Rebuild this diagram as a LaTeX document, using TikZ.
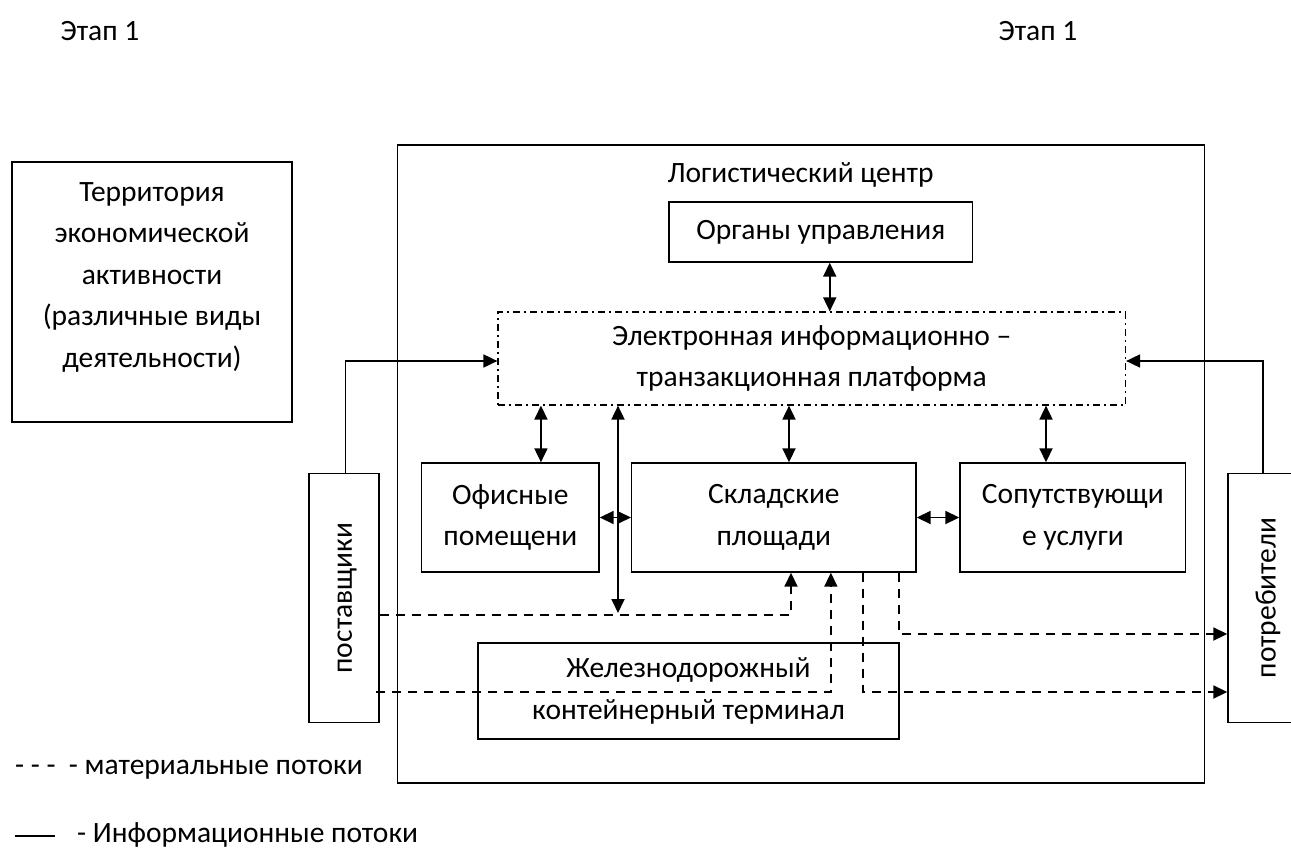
\documentclass[tikz,border=0pt]{standalone}
\usepackage{fontspec}
\setmainfont{Carlito}
\usetikzlibrary{arrows.meta,calc}
\tikzset{
  box/.style={draw, line width=1.4pt, inner sep=0pt, align=center, anchor=center},
  plain/.style={inner sep=0pt, align=center, anchor=center},
  biarrow/.style={line width=1.8pt, {Triangle[length=14pt,width=13pt]}-{Triangle[length=14pt,width=13pt]}},
  oneway/.style={line width=1.8pt, -{Triangle[length=14pt,width=13pt]}},
  matflow/.style={line width=1.8pt, dash pattern=on 9pt off 7pt, -{Triangle[length=14pt,width=13pt]}},
  platstyle/.style={draw, line width=1.2pt, dash pattern=on 7pt off 4pt on 2pt off 4pt, inner sep=0pt, align=center, anchor=center}
}
\begin{document}
\begin{tikzpicture}[x=1pt,y=-1pt, font=\fontsize{29.5}{41.5}\selectfont]
\useasboundingbox (0,0) rectangle (1291,848);
\clip (0,0) rectangle (1291,848);

% stage labels
\node[plain] (stageL) at (100,31) {Этап 1};
\node[plain] (stageR) at (1038,31) {Этап 1};

% territory
\node[box, minimum width=280pt, minimum height=260pt] (terr) at (152,292) {};
\node[plain] (terrtxt) at (152,277) {Территория\\экономической\\активности\\(различные виды\\деятельности)};

% logistics centre
\node[box, minimum width=807pt, minimum height=638pt] (lc) at (801,464) {};
\node[plain] (lctitle) at (800.5,175) {Логистический центр};

\node[box, minimum width=303.5pt, minimum height=60pt] (org) at (820.75,232) {Органы управления};
\node[platstyle, minimum width=627.5pt, minimum height=93pt] (plat) at (811.75,358.5) {Электронная информационно –\\транзакционная платформа};

\node[box, minimum width=177.3pt, minimum height=109pt] (off) at (510.35,517.5) {Офисные\\помещени};
\node[box, minimum width=284.3pt, minimum height=109pt] (skl) at (773.85,517.5) {Складские\\площади};
\node[box, minimum width=225.7pt, minimum height=109pt] (sop) at (1072.85,517.5) {Сопутствующи\\е услуги};
\node[box, minimum width=421pt, minimum height=96pt] (rail) at (688.5,691) {Железнодорожный\\контейнерный терминал};

\node[box, minimum width=70pt, minimum height=248.5pt] (post) at (344,598) {};
\node[plain, rotate=90] (posttxt) at (347,598) {поставщики};
\node[box, minimum width=80pt, minimum height=248.5pt] (potr) at (1268,598) {};
\node[plain, rotate=90] (potrtxt) at (1268,598) {потребители};

% information flows
\draw[biarrow] ([xshift=9pt]org.south) -- ([xshift=9pt]org.south |- plat.north);
\draw[biarrow] ([xshift=30.6pt]off.north |- plat.south) -- ([xshift=30.6pt]off.north);
\coordinate (m1) at (618,613);
\draw[biarrow] (m1 |- plat.south) -- (m1);
\draw[biarrow] ([xshift=15.15pt]skl.north |- plat.south) -- ([xshift=15.15pt]skl.north);
\draw[biarrow] ([xshift=-26.85pt]sop.north |- plat.south) -- ([xshift=-26.85pt]sop.north);
\draw[biarrow] (off.east) -- (skl.west);
\draw[biarrow] (skl.east) -- (sop.west);
\draw[oneway] ([xshift=1.5pt]post.north) |- ([yshift=-2.5pt]plat.west);
\draw[oneway] ([xshift=-5pt]potr.north) |- ([yshift=-2.5pt]plat.east);

% material flows
\draw[matflow] ([yshift=-17pt]post.east) -| ([xshift=17.15pt]skl.south);
\draw[matflow] ([xshift=-4pt,yshift=-94pt]post.east) -| ([xshift=57pt]skl.south);
\draw[matflow] ([xshift=89.15pt]skl.south) |- ([yshift=-94pt]potr.west);
\draw[matflow] ([xshift=125.15pt]skl.south) |- ([yshift=-36pt]potr.west);

% legend
\node[plain, anchor=west] (leg1) at (15,770) {-\ -\ -\ \ - материальные потоки};
\coordinate (legA) at (15,836);
\coordinate (legB) at (55,836);
\draw[line width=1.3pt] (legA) -- (legB);
\node[plain, anchor=west] (leg2) at (77,835) {- Информационные потоки};
\end{tikzpicture}
\end{document}
